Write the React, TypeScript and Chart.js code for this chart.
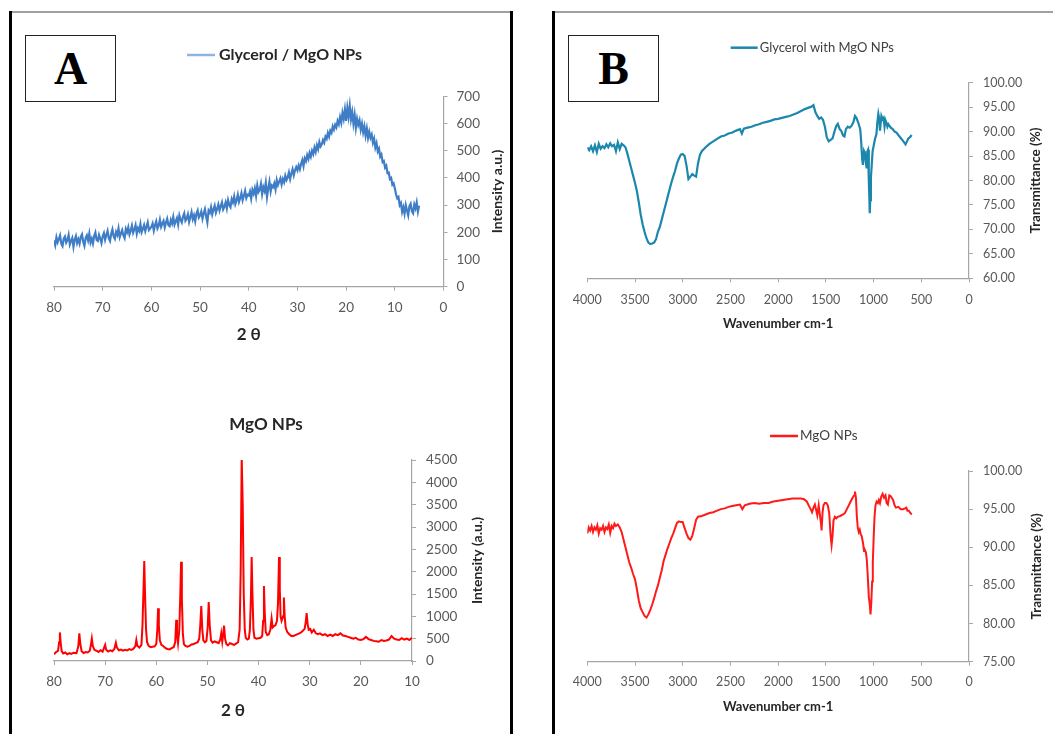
import React, { useEffect, useRef } from "react";
import { Chart, registerables } from "chart.js";

Chart.register(...registerables);

// ---------------- DATA ----------------
// Panel A (top): XRD of Glycerol / MgO NPs, sampled every 0.25° from 80° down to 5°
const a1Start = 80;
const a1Step = 0.25;
const a1Intensity = [
  170, 152, 181, 163, 175, 188, 158, 149, 176, 184, 162, 171, 190, 155, 168, 179, 146, 172, 186, 160,
  174, 158, 183, 192, 165, 150, 178, 188, 170, 195, 162, 176, 158, 186, 199, 172, 168, 190, 176, 160,
  185, 197, 172, 190, 205, 178, 168, 194, 210, 185, 176, 201, 190, 214, 182, 196, 208, 188, 178, 212,
  200, 218, 192, 206, 224, 198, 210, 226, 195, 215, 205, 230, 200, 212, 226, 204, 220, 236, 208, 214,
  220, 232, 206, 226, 240, 214, 224, 246, 220, 232, 242, 218, 236, 250, 226, 222, 245, 232, 256, 228,
  240, 252, 228, 262, 246, 236, 258, 270, 242, 250, 266, 238, 256, 274, 248, 262, 240, 268, 280, 254,
  262, 276, 250, 270, 285, 258, 236, 280, 272, 292, 266, 284, 298, 272, 286, 302, 280, 296, 310, 284,
  294, 310, 288, 318, 300, 292, 322, 310, 332, 304, 318, 338, 312, 326, 344, 318, 334, 352, 326, 338,
  335, 350, 324, 356, 342, 362, 334, 372, 348, 356, 378, 340, 366, 352, 382, 330, 362, 386, 350, 372,
  366, 380, 358, 392, 374, 386, 398, 376, 396, 384, 408, 392, 402, 420, 396, 416, 432, 410, 428, 440,
  428, 446, 432, 452, 466, 444, 472, 462, 484, 470, 492, 478, 500, 488, 512, 496, 520, 506, 532, 516,
  524, 540, 530, 552, 544, 566, 552, 574, 566, 590, 578, 596, 586, 610, 598, 624, 604, 640, 618, 652,
  610, 658, 626, 666, 616, 642, 600, 632, 585, 618, 596, 612, 578, 600, 568, 590, 556, 582, 548, 570,
  548, 560, 530, 545, 512, 528, 498, 508, 478, 486, 458, 462, 438, 445, 418, 420, 396, 400, 375, 380,
  362, 340, 325, 330, 300, 308, 275, 292, 268, 300, 280, 262, 296, 305, 278, 270, 302, 288, 310, 276,
  298,
];
const a1TwoTheta = a1Intensity.map((_, i) => a1Start - i * a1Step);

// Panel A (bottom): XRD of MgO NPs
const a2TwoTheta = [
  80.0, 79.6, 79.2, 79.0, 78.85, 78.7, 78.5, 78.2, 77.8, 77.4, 77.0, 76.6, 76.2, 75.6, 75.25, 75.05, 74.85, 74.6, 74.2, 73.8,
  73.4, 73.0, 72.8, 72.6, 72.4, 72.1, 71.7, 71.3, 70.9, 70.5, 70.2, 70.0, 69.8, 69.4, 69.0, 68.6, 68.2, 67.9, 67.7, 67.3,
  66.9, 66.5, 66.1, 65.7, 65.3, 64.9, 64.5, 64.1, 63.9, 63.7, 63.3, 62.9, 62.7, 62.5, 62.35, 62.2, 62.0, 61.8, 61.5, 61.1,
  60.7, 60.3, 60.0, 59.8, 59.65, 59.5, 59.3, 59.0, 58.6, 58.2, 57.8, 57.4, 57.0, 56.6, 56.3, 56.1, 55.95, 55.75, 55.5, 55.3,
  55.15, 55.0, 54.8, 54.6, 54.3, 53.9, 53.5, 53.1, 52.7, 52.3, 51.9, 51.6, 51.4, 51.2, 51.0, 50.8, 50.5, 50.2, 49.95, 49.75,
  49.55, 49.3, 49.0, 48.6, 48.2, 47.8, 47.5, 47.3, 47.1, 46.95, 46.75, 46.55, 46.3, 46.0, 45.6, 45.2, 44.8, 44.4, 44.0, 43.7,
  43.5, 43.3, 43.1, 42.9, 42.7, 42.5, 42.2, 41.9, 41.7, 41.5, 41.35, 41.2, 41.0, 40.8, 40.4, 40.0, 39.6, 39.3, 39.1, 38.95,
  38.8, 38.6, 38.3, 38.0, 37.7, 37.45, 37.25, 37.0, 36.7, 36.4, 36.2, 36.0, 35.85, 35.7, 35.5, 35.2, 35.05, 34.9, 34.7, 34.4,
  34.0, 33.6, 33.2, 32.8, 32.4, 32.0, 31.6, 31.3, 31.0, 30.8, 30.6, 30.4, 30.2, 29.9, 29.6, 29.2, 28.8, 28.4, 28.0, 27.5,
  27.0, 26.5, 26.0, 25.5, 25.0, 24.5, 24.0, 23.5, 23.0, 22.5, 22.0, 21.5, 21.0, 20.5, 20.0, 19.5, 19.0, 18.5, 18.0, 17.5,
  17.0, 16.5, 16.0, 15.5, 15.0, 14.5, 14.0, 13.5, 13.0, 12.5, 12.0, 11.5, 11.0, 10.5, 10.0,
];
const a2Intensity = [
  150, 200, 230, 420, 640, 420, 220, 170, 190, 150, 175, 160, 185, 175, 330, 620, 380, 220, 180, 200,
  190, 230, 350, 505, 330, 250, 230, 200, 240, 210, 300, 360, 250, 210, 240, 220, 270, 410, 300, 240,
  255, 230, 250, 235, 265, 250, 270, 330, 470, 340, 300, 360, 800, 1600, 2240, 1500, 700, 420, 340, 310,
  320, 330, 380, 700, 1180, 800, 460, 360, 330, 290, 270, 260, 290, 310, 420, 920, 600, 400, 700, 1500,
  2220, 1400, 600, 380, 340, 320, 340, 370, 380, 400, 420, 500, 800, 1230, 700, 460, 420, 450, 750, 1320,
  800, 460, 410, 440, 420, 400, 480, 620, 430, 560, 790, 500, 380, 350, 400, 380, 360, 390, 420, 700,
  2000, 4540, 3500, 1500, 700, 520, 480, 500, 700, 1400, 2330, 1500, 700, 520, 500, 510, 520, 560, 900, 1680,
  1100, 650, 580, 600, 700, 950, 750, 780, 800, 900, 1300, 2330, 1600, 1000, 900, 1000, 1420, 1000, 750, 650,
  600, 560, 560, 580, 600, 620, 650, 680, 720, 850, 1070, 820, 700, 720, 640, 700, 620, 600, 620, 580,
  600, 560, 590, 560, 600, 580, 620, 570, 560, 540, 520, 500, 520, 480, 470, 490, 540, 490, 470, 450,
  440, 430, 470, 450, 460, 480, 560, 500, 480, 470, 510, 480, 500, 470, 520,
];

// Panel B (top): FTIR of Glycerol with MgO NPs
const b1Wavenumber = [
  4000, 3980, 3960, 3940, 3920, 3900, 3880, 3860, 3840, 3820, 3800, 3780, 3760, 3740, 3720, 3700, 3680, 3660, 3640, 3620,
  3600, 3580, 3560, 3540, 3520, 3500, 3480, 3460, 3440, 3420, 3400, 3380, 3360, 3340, 3320, 3300, 3280, 3260, 3240, 3220,
  3200, 3180, 3160, 3140, 3120, 3100, 3080, 3060, 3040, 3020, 3000, 2980, 2960, 2940, 2920, 2900, 2880, 2860, 2840, 2820,
  2800, 2760, 2720, 2680, 2640, 2600, 2560, 2520, 2480, 2440, 2400, 2380, 2360, 2320, 2280, 2240, 2200, 2160, 2120, 2080,
  2040, 2000, 1960, 1920, 1880, 1840, 1800, 1760, 1720, 1680, 1650, 1630, 1610, 1590, 1570, 1550, 1530, 1510, 1490, 1470,
  1450, 1430, 1410, 1390, 1375, 1355, 1340, 1320, 1305, 1290, 1270, 1250, 1230, 1210, 1195, 1180, 1160, 1140, 1130, 1120,
  1112, 1100, 1090, 1080, 1072, 1065, 1058, 1050, 1045, 1040, 1035, 1028, 1020, 1010, 1000, 985, 970, 960, 950, 940,
  933, 925, 918, 905, 895, 885, 875, 865, 855, 845, 835, 820, 800, 780, 760, 741, 720, 700, 680, 665,
  650, 636, 620, 601,
];
const b1Transmittance = [
  86.8, 86.2, 87.0, 86.0, 87.2, 85.8, 87.5, 86.5, 87.0, 86.6, 87.4, 86.8, 87.6, 87.0, 87.3, 86.0, 87.8, 86.4, 87.5, 87.2,
  86.8, 85.5, 84.0, 82.5, 81.0, 79.5, 77.8, 75.5, 73.0, 71.0, 69.5, 68.2, 67.3, 67.0, 67.1, 67.3, 68.0, 69.5, 70.5, 72.0,
  73.5, 75.0, 76.5, 78.0, 79.5, 80.8, 82.0, 83.5, 84.5, 85.3, 85.4, 85.0, 83.0, 80.3, 80.8, 81.3, 81.0, 80.8, 83.5, 85.2,
  86.0, 86.8, 87.5, 88.0, 88.5, 89.0, 89.2, 89.6, 89.8, 90.2, 90.5, 89.6, 90.6, 90.8, 91.0, 91.3, 91.5, 91.8, 92.0, 92.2,
  92.5, 92.6, 92.8, 93.0, 93.2, 93.5, 93.8, 94.2, 94.6, 94.9, 95.1, 95.4, 94.0, 93.2, 92.6, 92.9, 92.4, 91.0, 88.8, 88.0,
  88.3, 88.6, 90.0, 91.2, 91.6, 90.5, 90.2, 89.2, 89.0, 90.5, 91.0, 90.8, 91.2, 92.0, 93.2, 92.8, 91.8, 90.5, 88.0, 84.5,
  83.2, 86.0, 85.5, 83.5, 82.5, 86.0, 86.3, 80.0, 77.0, 73.3, 76.0, 80.5, 83.0, 86.0, 87.0, 88.5, 89.5, 92.0, 93.6, 92.5,
  90.2, 91.8, 93.2, 92.5, 92.8, 91.0, 92.3, 91.8, 91.0, 91.5, 91.2, 90.8, 90.5, 90.0, 89.8, 89.3, 88.8, 88.3, 87.8, 87.4,
  88.0, 88.6, 88.8, 89.3,
];

// Panel B (bottom): FTIR of MgO NPs
const b2Wavenumber = [
  4000, 3985, 3970, 3955, 3940, 3925, 3910, 3895, 3880, 3865, 3850, 3835, 3820, 3805, 3790, 3775, 3760, 3745, 3730, 3715,
  3700, 3680, 3660, 3640, 3620, 3600, 3580, 3560, 3540, 3520, 3500, 3480, 3460, 3440, 3420, 3400, 3380, 3360, 3340, 3320,
  3300, 3280, 3260, 3240, 3220, 3200, 3180, 3160, 3140, 3120, 3100, 3080, 3060, 3040, 3020, 3000, 2980, 2960, 2940, 2920,
  2900, 2880, 2860, 2840, 2800, 2760, 2720, 2680, 2640, 2600, 2560, 2520, 2480, 2440, 2400, 2375, 2350, 2300, 2250, 2200,
  2150, 2100, 2050, 2000, 1950, 1900, 1850, 1800, 1760, 1730, 1700, 1680, 1660, 1645, 1630, 1615, 1600, 1590, 1575, 1560,
  1550, 1545, 1535, 1525, 1510, 1495, 1480, 1465, 1450, 1440, 1430, 1420, 1405, 1390, 1375, 1350, 1320, 1300, 1280, 1260,
  1240, 1220, 1205, 1195, 1185, 1175, 1165, 1155, 1145, 1135, 1125, 1110, 1100, 1090, 1080, 1070, 1060, 1050, 1040, 1032,
  1025, 1015, 1008, 1000, 990, 980, 968, 955, 945, 933, 920, 905, 890, 875, 863, 850, 835, 820, 810, 795,
  780, 765, 740, 715, 690, 670, 657, 645, 630, 615, 600,
];
const b2Transmittance = [
  91.8, 92.6, 92.2, 92.8, 92.0, 92.6, 92.3, 92.9, 91.8, 92.5, 92.3, 92.8, 92.0, 92.6, 92.4, 93.0, 91.9, 92.8, 92.5, 93.1,
  92.8, 93.0, 92.6, 92.0, 91.0, 90.0, 89.0, 88.0, 87.3, 86.5, 85.8, 84.5, 83.0, 82.0, 81.5, 81.0, 80.8, 81.2, 81.8, 82.5,
  83.3, 84.2, 85.0, 86.0, 87.0, 88.2, 89.0, 89.8, 90.5, 91.2, 91.8, 92.5, 93.2, 93.4, 93.3, 93.3, 92.5, 91.8, 91.2, 91.0,
  91.5, 92.5, 93.6, 94.0, 94.1, 94.3, 94.5, 94.6, 94.8, 95.0, 95.1, 95.3, 95.4, 95.5, 95.6, 95.0, 95.5, 95.7, 95.8, 95.7,
  95.8, 95.8, 96.0, 96.1, 96.2, 96.3, 96.4, 96.4, 96.4, 96.3, 96.0, 95.5, 95.0, 94.6, 95.2, 95.6, 94.8, 94.2, 95.5, 94.0,
  93.0, 92.2, 94.5, 95.5, 95.8, 95.8, 95.5, 94.5, 91.5, 90.3, 91.5, 93.5, 94.0, 93.8, 94.0, 94.1, 94.3, 94.5, 95.0, 95.5,
  96.0, 96.5, 96.8, 97.3, 96.5, 94.0, 92.5, 92.0, 92.3, 91.7, 91.5, 90.5, 89.5, 89.6, 89.3, 88.2, 86.0, 83.5, 82.5, 81.2,
  82.5, 85.5, 88.0, 91.0, 94.0, 95.5, 96.0, 95.8, 96.2, 95.8, 96.6, 97.0, 96.5, 96.8, 95.8, 95.6, 96.8, 96.7, 96.5, 96.2,
  95.5, 95.2, 95.3, 95.0, 95.0, 95.1, 95.2, 94.8, 94.8, 94.5, 94.3,
];

// ---------------- STYLE ----------------
const FONT = 'Lato, "Open Sans", "DejaVu Sans", sans-serif';
const TICK_COLOR = "#595959";
const AXIS_COLOR = "#a6a6a6";
const TITLE_COLOR = "#262626";

const overlayPlugin = {
  id: "overlay",
  afterDraw(chart: any, _args: any, opts: any) {
    const { ctx, chartArea } = chart;
    ctx.save();
    if (opts.yTitle) {
      const t = opts.yTitle;
      ctx.save();
      ctx.translate(chartArea.right + t.offset, (chartArea.top + chartArea.bottom) / 2);
      ctx.rotate(-Math.PI / 2);
      ctx.font = t.font;
      ctx.fillStyle = TITLE_COLOR;
      ctx.textAlign = "center";
      ctx.textBaseline = "middle";
      ctx.fillText(t.text, 0, 0);
      ctx.restore();
    }
    if (opts.legend) {
      const l = opts.legend;
      ctx.strokeStyle = l.lineColor;
      ctx.lineWidth = l.lineWidth;
      ctx.beginPath();
      ctx.moveTo(l.x, l.y);
      ctx.lineTo(l.x + l.len, l.y);
      ctx.stroke();
      ctx.font = l.font;
      ctx.fillStyle = l.color;
      ctx.textAlign = "left";
      ctx.textBaseline = "middle";
      ctx.fillText(l.text, l.x + l.len + l.gap, l.y);
    }
    if (opts.header) {
      const h = opts.header;
      ctx.font = h.font;
      ctx.fillStyle = TITLE_COLOR;
      ctx.textAlign = "center";
      ctx.textBaseline = "middle";
      ctx.fillText(h.text, h.x, h.y);
    }
    ctx.restore();
  },
};

function makeConfig(p: any) {
  const points = p.xs.map((x: number, i: number) => ({ x, y: p.ys[i] }));
  return {
    type: "line",
    data: {
      datasets: [
        {
          label: p.label,
          data: points,
          borderColor: p.color,
          borderWidth: p.lineWidth,
          pointRadius: 0,
          tension: 0,
          fill: false,
        },
      ],
    },
    options: {
      animation: false,
      responsive: false,
      devicePixelRatio: 1,
      layout: { padding: p.padding },
      plugins: {
        legend: { display: false },
        title: { display: false },
        tooltip: { enabled: false },
        overlay: { yTitle: p.yTitle, legend: p.legend, header: p.header },
      },
      scales: {
        x: {
          type: "linear",
          reverse: true,
          min: p.xMin,
          max: p.xMax,
          ticks: {
            stepSize: p.xStep,
            autoSkip: false,
            maxRotation: 0,
            font: { family: FONT, size: p.tickSize },
            color: TICK_COLOR,
            padding: p.xTickPad,
            callback: (v: number) => String(v),
          },
          grid: { drawOnChartArea: false, drawTicks: true, tickLength: 4, color: AXIS_COLOR },
          border: { color: AXIS_COLOR, width: 1.2 },
          title: {
            display: true,
            text: p.xTitle,
            font: { family: FONT, size: p.xTitleSize, weight: "bold" },
            color: TITLE_COLOR,
            padding: 0,
          },
          afterFit: (s: any) => {
            s.height = p.xH;
          },
        },
        y: {
          type: "linear",
          position: "right",
          min: p.yMin,
          max: p.yMax,
          ticks: {
            stepSize: p.yStep,
            autoSkip: false,
            font: { family: FONT, size: p.tickSize },
            color: TICK_COLOR,
            padding: p.yTickPad,
            callback: p.yFmt || ((v: number) => String(v)),
          },
          grid: { drawOnChartArea: false, drawTicks: true, tickLength: 4, color: AXIS_COLOR },
          border: { color: AXIS_COLOR, width: 1.2 },
          afterFit: (s: any) => {
            s.width = p.yW;
          },
        },
      },
    },
    plugins: [overlayPlugin],
  };
}

const charts = [
  {
    key: "a1",
    left: 15, top: 20, w: 500, h: 330,
    cfg: {
      label: "Glycerol / MgO NPs",
      xs: a1TwoTheta, ys: a1Intensity,
      color: "#3f7ec6", lineWidth: 2.2,
      padding: { left: 39, top: 76.5, right: 11.5, bottom: 5.5 },
      xMin: 0, xMax: 80, xStep: 10, yMin: 0, yMax: 700, yStep: 100,
      tickSize: 13.5, xTickPad: 9, yTickPad: 9, xH: 58, yW: 60,
      xTitle: "2 θ", xTitleSize: 17,
      yTitle: { text: "Intensity a.u.)", offset: 53.5, font: `bold 14px ${FONT}` },
      legend: { x: 172, y: 35, len: 28, gap: 4, text: "Glycerol / MgO NPs", font: `bold 16px ${FONT}`, color: TITLE_COLOR, lineColor: "#8db4e2", lineWidth: 2.5 },
    },
  },
  {
    key: "a2",
    left: 15, top: 380, w: 500, h: 354,
    cfg: {
      label: "MgO NPs",
      xs: a2TwoTheta, ys: a2Intensity,
      color: "#ff0000", lineWidth: 2,
      padding: { left: 39, top: 80, right: 41, bottom: 13 },
      xMin: 10, xMax: 80, xStep: 10, yMin: 0, yMax: 4500, yStep: 500,
      tickSize: 13.5, xTickPad: 8.5, yTickPad: 10, xH: 60, yW: 62,
      xTitle: "2 θ", xTitleSize: 17,
      yTitle: { text: "Intensity (a.u.)", offset: 65, font: `bold 14px ${FONT}` },
      header: { text: "MgO NPs", x: 251, y: 45, font: `bold 17px ${FONT}` },
    },
  },
  {
    key: "b1",
    left: 555, top: 20, w: 498, h: 330,
    cfg: {
      label: "Glycerol with MgO NPs",
      xs: b1Wavenumber, ys: b1Transmittance,
      color: "#1b87ad", lineWidth: 2.2,
      padding: { left: 32.3, top: 62.7, right: 24, bottom: 18.7 },
      xMin: 0, xMax: 4000, xStep: 500, yMin: 60, yMax: 100, yStep: 5,
      tickSize: 12.5, xTickPad: 10, yTickPad: 10, xH: 53, yW: 60,
      yFmt: (v: number) => v.toFixed(2),
      xTitle: "Wavenumber cm-1", xTitleSize: 13,
      yTitle: { text: "Transmittance (%)", offset: 67, font: `bold 13.5px ${FONT}` },
      legend: { x: 175.7, y: 27.7, len: 27, gap: 2, text: "Glycerol with MgO NPs", font: `13px ${FONT}`, color: "#404040", lineColor: "#1b87ad", lineWidth: 2.5 },
    },
  },
  {
    key: "b2",
    left: 555, top: 380, w: 498, h: 354,
    cfg: {
      label: "MgO NPs",
      xs: b2Wavenumber, ys: b2Transmittance,
      color: "#ff1a1a", lineWidth: 2,
      padding: { left: 32.3, top: 91, right: 24, bottom: 18.9 },
      xMin: 0, xMax: 4000, xStep: 500, yMin: 75, yMax: 100, yStep: 5,
      tickSize: 12.5, xTickPad: 8.5, yTickPad: 10, xH: 53.4, yW: 60,
      yFmt: (v: number) => v.toFixed(2),
      xTitle: "Wavenumber cm-1", xTitleSize: 13,
      yTitle: { text: "Transmittance (%)", offset: 68, font: `bold 13.5px ${FONT}` },
      legend: { x: 215, y: 56, len: 28, gap: 2, text: "MgO NPs", font: `13.5px ${FONT}`, color: "#404040", lineColor: "#ff1a1a", lineWidth: 2.5 },
    },
  },
];

function ChartBox({ left, top, w, h, cfg }: any) {
  const ref = useRef<HTMLCanvasElement>(null);
  useEffect(() => {
    const chart = new Chart(ref.current as HTMLCanvasElement, makeConfig(cfg) as any);
    return () => chart.destroy();
  }, []);
  return (
    <canvas
      ref={ref}
      width={w}
      height={h}
      style={{ position: "absolute", left, top, width: w, height: h }}
    />
  );
}

const labelBox = (left: number, text: string) => (
  <div
    style={{
      position: "absolute",
      left,
      top: 35,
      width: 89,
      height: 65,
      border: "1px solid #222",
      background: "#fff",
      display: "flex",
      alignItems: "center",
      justifyContent: "center",
      fontFamily: '"Liberation Serif", "DejaVu Serif", serif',
      fontWeight: "bold",
      fontSize: 46,
      color: "#000",
      lineHeight: 1,
      zIndex: 2,
    }}
  >
    {text}
  </div>
);

export default function App() {
  return (
    <div
      style={{
        position: "absolute",
        left: 0,
        top: 0,
        width: 1053,
        height: 734,
        background: "#fff",
        overflow: "hidden",
      }}
    >
      {/* panel frames */}
      <div style={{ position: "absolute", left: 10, top: 11, width: 501, height: 2, background: "#a0a0a0" }} />
      <div style={{ position: "absolute", left: 8.5, top: 11, width: 3, height: 723, background: "#000" }} />
      <div style={{ position: "absolute", left: 510, top: 11, width: 3, height: 723, background: "#000" }} />
      <div style={{ position: "absolute", left: 553, top: 11, width: 500, height: 2, background: "#a0a0a0" }} />
      <div style={{ position: "absolute", left: 552, top: 11, width: 3, height: 723, background: "#000" }} />
      {charts.map((c) => (
        <ChartBox key={c.key} left={c.left} top={c.top} w={c.w} h={c.h} cfg={c.cfg} />
      ))}
      {labelBox(25, "A")}
      {labelBox(568, "B")}
    </div>
  );
}
